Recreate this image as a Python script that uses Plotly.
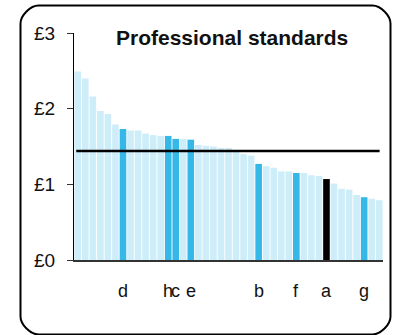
import plotly.graph_objects as go

# Cost per unit for each provider, sorted high to low (GBP)
values = [2.49, 2.40, 2.16, 1.97, 1.93, 1.79, 1.73, 1.71, 1.71, 1.67,
          1.65, 1.64, 1.64, 1.60, 1.60, 1.59, 1.52, 1.51, 1.50, 1.48,
          1.48, 1.45, 1.40, 1.38, 1.27, 1.24, 1.22, 1.17, 1.17, 1.15,
          1.15, 1.12, 1.11, 1.07, 1.01, 0.94, 0.93, 0.86, 0.83, 0.81,
          0.79]
# Named providers (letter under the bar); "" for the rest
labels = ["", "", "", "", "", "", "d", "", "", "",
          "", "", "h", "c", "", "e", "", "", "", "",
          "", "", "", "", "b", "", "", "", "", "f",
          "", "", "", "a", "", "", "", "", "g", "",
          ""]
focus_label = "a"
average = 1.44
y_ticks = [0, 1, 2, 3]
title = "Professional standards"

LIGHT = "#cdedf9"
MID = "#35b8e8"
FOCUS = "#000000"

xs = list(range(len(values)))
colors = [FOCUS if lab == focus_label else (MID if lab else LIGHT) for lab in labels]

fig = go.Figure()
fig.add_trace(go.Bar(x=xs, y=values, marker=dict(color=colors, line=dict(width=0)),
                     hoverinfo="skip"))

# plot-area geometry in pixels, used to place the frame and text
W, H = 399, 335
ML, MR, MT, MB = 74, 16, 33, 75
PW, PH = W - ML - MR, H - MT - MB


def px_x(p):
    return (p - ML) / PW


def px_y(p):
    return (H - MB - p) / PH


# rounded frame around the whole chart
L, R, T, B, r = 20.5, 390.5, 5.5, 334.5, 18
k = 0.45 * r


def pt(a, b):
    return f"{px_x(a):.5f},{px_y(b):.5f}"


frame = (f"M {pt(L, T + r)} C {pt(L, T + r - k)} {pt(L + r - k, T)} {pt(L + r, T)} "
         f"L {pt(R - r, T)} C {pt(R - r + k, T)} {pt(R, T + r - k)} {pt(R, T + r)} "
         f"L {pt(R, B - r)} C {pt(R, B - r + k)} {pt(R - r + k, B)} {pt(R - r, B)} "
         f"L {pt(L + r, B)} C {pt(L + r - k, B)} {pt(L, B - r + k)} {pt(L, B - r)} Z")
fig.add_shape(type="path", path=frame, xref="paper", yref="paper",
              line=dict(color="black", width=2), layer="above")

# average line
fig.add_shape(type="line", xref="x", yref="y", x0=-0.2, x1=40.05, y0=average, y1=average,
              line=dict(color="black", width=2.5), layer="above")

fig.add_annotation(text=f"<b>{title}</b>", xref="paper", yref="paper",
                   x=px_x(232), y=px_y(37), xanchor="center", yanchor="middle",
                   showarrow=False, font=dict(family="Arial, Liberation Sans", size=21, color="#111"))

for i, lab in enumerate(labels):
    if lab:
        fig.add_annotation(text=lab, x=i, xref="x", yref="paper", y=px_y(291),
                           xanchor="center", yanchor="middle", showarrow=False,
                           font=dict(family="Arial, Liberation Sans", size=18, color="#111"))

fig.update_layout(
    width=W, height=H,
    margin=dict(l=ML, r=MR, t=MT, b=MB, pad=0),
    paper_bgcolor="white", plot_bgcolor="white",
    showlegend=False, bargap=0.12,
    font=dict(family="Arial, Liberation Sans", size=19, color="#111"),
)
fig.update_xaxes(range=[-0.5, len(values) - 0.5], showticklabels=False, ticks="",
                 showgrid=False, zeroline=False, showline=True, linecolor="#333",
                 linewidth=1.5, fixedrange=True)
fig.update_yaxes(range=[0, 3], tickvals=y_ticks, ticktext=[f"£{v}" for v in y_ticks],
                 ticks="outside", ticklen=6, tickcolor="#333", tickwidth=1,
                 showline=True, linecolor="black", linewidth=1, showgrid=False,
                 zeroline=False, ticklabelstandoff=8, fixedrange=True)

fig.write_html("out.html", config={"displayModeBar": False})
